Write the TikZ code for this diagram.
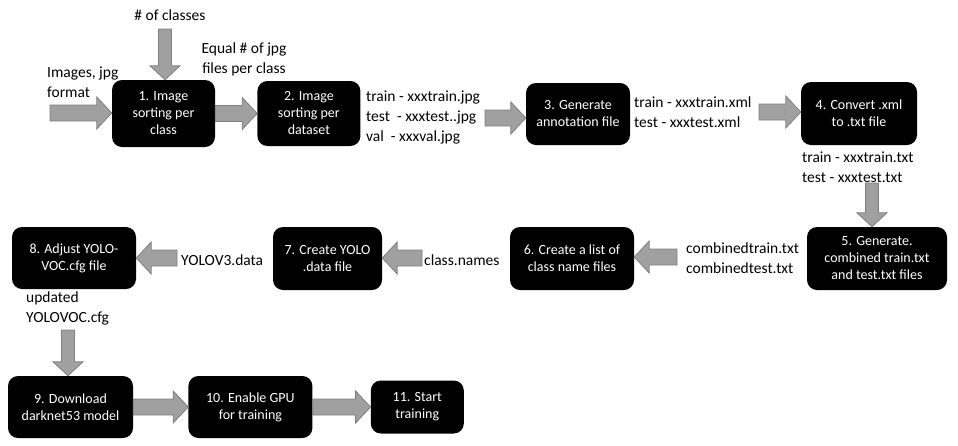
\documentclass[tikz,border=0pt]{standalone}
\usepackage{fontspec}
\setmainfont{Carlito}
\usepackage{tikz}
\usetikzlibrary{positioning,calc}

\definecolor{arrowfill}{HTML}{A0A0A0}
\definecolor{arrowline}{HTML}{7F7F7F}

\tikzset{
  procbox/.style={fill=black, text=white, rounded corners=10pt, align=center, inner sep=2pt, font=\fontsize{14}{17}\selectfont},
  lbl/.style={align=left, inner sep=0pt, font=\fontsize{15.5}{20}\selectfont},
  blockarrow/.style={fill=arrowfill, draw=arrowline, line width=0.8pt}
}

\newcommand{\hblock}[2]{\path[blockarrow] let \p1=(#1), \p2=(#2), \n1={sign(\x2-\x1)*15} in
  (\x1,\y1+8pt) -- (\x2-\n1*1pt,\y1+8pt) -- (\x2-\n1*1pt,\y1+16pt) -- (\x2,\y1) -- (\x2-\n1*1pt,\y1-16pt) -- (\x2-\n1*1pt,\y1-8pt) -- (\x1,\y1-8pt) -- cycle;}
\newcommand{\vblock}[2]{\path[blockarrow] let \p1=(#1), \p2=(#2), \n1={sign(\y2-\y1)*14} in
  (\x1+6.5pt,\y1) -- (\x1+6.5pt,\y2-\n1*1pt) -- (\x1+15pt,\y2-\n1*1pt) -- (\x1,\y2) -- (\x1-15pt,\y2-\n1*1pt) -- (\x1-6.5pt,\y2-\n1*1pt) -- (\x1-6.5pt,\y1) -- cycle;}

\begin{document}
\begin{tikzpicture}[x=1pt,y=-1pt]
\useasboundingbox (0,0) rectangle (958,445);

\node[procbox, minimum width=103pt, minimum height=67pt] (b1) at (163.5,113.5) {1. Image\\sorting per\\class};
\node[procbox, minimum width=103pt, minimum height=65pt, right=42pt of b1] (b2) {2. Image\\sorting per\\dataset};
\node[procbox, minimum width=104pt, minimum height=62pt] (b3) at (578,114) {3. Generate\\annotation file};
\node[procbox, minimum width=116pt, minimum height=63pt] (b4) at (859,113.5) {4. Convert .xml\\to .txt file};

\node[procbox, minimum width=140pt, minimum height=63pt] (b5) at (877,258.5) {5. Generate.\\combined train.txt\\and test.txt files};
\node[procbox, minimum width=124pt, minimum height=63pt] (b6) at (572,258.5) {6. Create a list of\\class name files};
\node[procbox, minimum width=109pt, minimum height=63pt] (b7) at (327.5,258.5) {7. Create YOLO\\.data file};
\node[procbox, minimum width=124pt, minimum height=62pt] (b8) at (74,258) {8. Adjust YOLO-\\VOC.cfg file};

\node[procbox, minimum width=125pt, minimum height=62pt] (b9) at (70.5,407) {9. Download\\darknet53 model};
\node[procbox, minimum width=124pt, minimum height=62pt, right=55pt of b9] (b10) {10. Enable GPU\\for training};
\node[procbox, minimum width=93pt, minimum height=53pt, right=58pt of b10] (b11) {11. Start\\training};

\node[lbl] (cls) at (170,15) {\# of classes};
\node[lbl, align=center] (eqjpg) at (244,59) {Equal \# of jpg\\files per class};
\node[lbl, anchor=west] (imgs) at (47,82) {Images, jpg\\format};
\node[lbl, anchor=west] (jpgs) at (366,117) {train - xxxtrain.jpg\\test\ \ - xxxtest..jpg\\val\ \ - xxxval.jpg};
\node[lbl, anchor=west] (xmls) at (634,112.5) {train - xxxtrain.xml\\test - xxxtest.xml};
\node[lbl, anchor=west] (txts) at (802,167.5) {train - xxxtrain.txt\\test - xxxtest.txt};
\node[lbl, anchor=west] (comb) at (686,258) {combinedtrain.txt\\combinedtest.txt};
\node[lbl, anchor=west] (names) at (424,260) {class.names};
\node[lbl, anchor=west] (ydata) at (181,260) {YOLOV3.data};
\node[lbl, anchor=west] (cfg) at (26,308) {updated\\YOLOVOC.cfg};

\coordinate (imgs0) at (50,113); \coordinate (cls0) at (165,29); \coordinate (jpgs0) at (485,118); \coordinate (xmls0) at (759,112);
\coordinate (txts0) at (872,183); \coordinate (comb0) at (677,257); \coordinate (names0) at (422,258); \coordinate (ydata0) at (177,258);
\coordinate (cfg0) at (68,330);

\hblock{imgs0}{b1.west}
\vblock{cls0}{b1.north}
\hblock{b1.east}{b2.west}
\hblock{jpgs0}{b3.west}
\hblock{xmls0}{b4.west}
\vblock{txts0}{b5.north}
\hblock{comb0}{b6.east}
\hblock{names0}{b7.east}
\hblock{ydata0}{b8.east}
\vblock{cfg0}{b9.north}
\hblock{b9.east}{b10.west}
\hblock{b10.east}{b11.west}
\end{tikzpicture}
\end{document}
